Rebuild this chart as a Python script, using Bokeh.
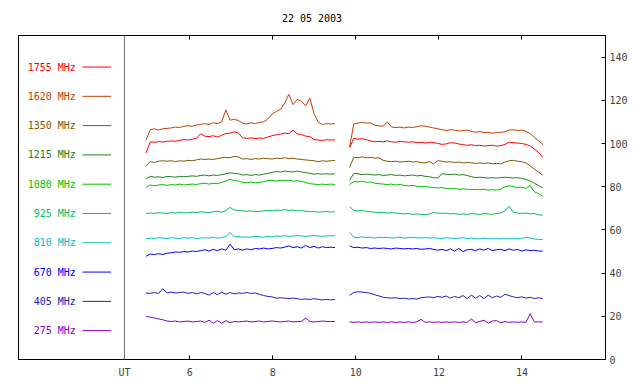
import numpy as np
from bokeh.plotting import figure
from bokeh.models import LinearAxis, Range1d, FixedTicker, Span, Label
from bokeh.embed import file_html
from bokeh.resources import INLINE

TITLE = "22 05 2003"
FREQS = ["1755 MHz", "1620 MHz", "1350 MHz", "1215 MHz", "1080 MHz",
         "925 MHz", "810 MHz", "670 MHz", "405 MHz", "275 MHz"]
COLORS = ["#FF0000", "#C04000", "#805800", "#208020", "#00C000",
          "#00C060", "#00C0C0", "#0000FF", "#2020C0", "#8000C0"]

# sample times (UT hours) of the two observing blocks
T_AM = np.linspace(4.95, 9.5, 46)
T_PM = np.linspace(9.85, 14.5, 47)

F1755_AM = [95.6, 100.8, 100.5, 100.9, 100.7, 101.0, 101.2, 101.0, 101.5, 101.8,
            101.6, 102.0, 102.4, 104.5, 103.4, 103.2, 103.6, 103.0, 103.8, 104.6,
            104.8, 105.4, 104.8, 102.6, 102.4, 102.6, 102.3, 102.5, 102.4, 103.0,
            103.6, 104.0, 104.4, 104.8, 104.6, 106.2, 104.4, 104.2, 103.4, 103.2,
            101.8, 101.6, 101.4, 101.8, 101.6, 101.7]
F1755_PM = [98.0, 102.4, 102.0, 102.2, 101.8, 101.2, 100.8, 101.0, 100.8, 101.2,
            100.8, 100.6, 101.0, 100.8, 100.6, 100.8, 100.4, 100.6, 100.2, 100.6,
            100.4, 100.0, 99.6, 99.8, 100.4, 100.2, 99.8, 99.4, 99.2, 99.4,
            99.0, 99.2, 98.8, 99.0, 99.2, 98.8, 99.0, 99.6, 100.6, 100.4,
            100.2, 100.0, 99.6, 98.8, 97.4, 95.8, 93.6]

F1620_AM = [101.6, 106.4, 106.8, 106.2, 106.8, 107.0, 107.2, 107.6, 107.4, 108.0,
            108.2, 108.0, 108.6, 108.8, 109.2, 108.8, 109.6, 109.2, 110.0, 115.6,
            110.8, 111.2, 110.6, 109.4, 109.0, 109.6, 109.2, 109.8, 110.0, 111.4,
            113.6, 114.8, 115.8, 118.6, 122.8, 118.0, 120.4, 119.6, 117.4, 121.0,
            113.8, 109.8, 108.8, 109.2, 109.0, 109.2]
F1620_PM = [98.5, 109.0, 109.4, 109.8, 109.4, 109.6, 108.4, 108.2, 108.0, 110.0,
            107.6, 107.4, 107.6, 107.2, 107.6, 107.4, 107.8, 108.2, 108.0, 107.6,
            107.2, 106.8, 106.4, 106.0, 106.4, 106.2, 105.8, 106.0, 106.2, 105.6,
            105.2, 105.6, 105.0, 105.2, 104.8, 105.0, 105.2, 105.4, 106.2, 106.4,
            106.0, 106.2, 105.6, 104.6, 102.8, 101.2, 99.6]

F1350_AM = [89.8, 91.6, 91.2, 91.8, 92.0, 91.8, 92.0, 91.6, 92.0, 91.8,
            92.2, 92.0, 92.4, 92.8, 92.6, 92.8, 92.6, 93.0, 93.4, 93.6,
            93.4, 94.0, 93.8, 92.8, 93.0, 92.6, 93.0, 92.8, 93.2, 93.0,
            92.8, 93.2, 93.0, 93.4, 93.0, 93.2, 92.8, 92.6, 92.4, 92.2,
            92.0, 91.6, 92.0, 91.8, 92.0, 92.2]
F1350_PM = [89.0, 93.6, 93.4, 93.8, 93.4, 93.6, 93.2, 93.4, 92.2, 91.8,
            91.6, 91.8, 91.4, 91.6, 91.8, 91.4, 91.6, 91.2, 91.0, 91.6,
            90.6, 92.0, 91.8, 91.4, 91.6, 91.2, 91.4, 91.0, 91.2, 91.0,
            90.8, 91.0, 90.8, 91.0, 90.6, 90.8, 90.6, 91.4, 92.0, 92.2,
            91.8, 91.6, 91.0, 89.6, 88.2, 86.8, 85.3]

F1215_AM = [83.6, 84.8, 84.4, 84.6, 84.2, 84.8, 84.6, 84.4, 84.8, 84.6,
            84.8, 85.0, 84.8, 85.2, 85.4, 85.0, 85.4, 85.2, 85.6, 86.0,
            86.4, 86.2, 86.0, 85.4, 85.6, 85.2, 85.6, 85.4, 85.8, 86.2,
            86.6, 87.0, 86.8, 87.2, 87.0, 86.8, 87.2, 86.8, 86.6, 86.2,
            85.8, 86.0, 85.8, 86.0, 85.8, 86.0]
F1215_PM = [83.0, 86.2, 86.0, 85.6, 85.8, 85.6, 85.4, 85.6, 85.2, 85.4,
            85.6, 85.2, 85.4, 85.0, 85.2, 85.4, 85.0, 85.2, 84.8, 84.6,
            84.2, 84.0, 86.0, 85.8, 85.6, 85.8, 85.4, 85.6, 85.2, 84.6,
            84.2, 84.4, 84.2, 84.0, 84.2, 84.0, 84.2, 84.4, 84.2, 84.0,
            84.2, 83.8, 83.4, 82.6, 81.6, 80.6, 79.4]

F1080_AM = [79.6, 80.8, 80.4, 80.8, 81.0, 80.6, 81.0, 80.8, 81.2, 80.8,
            81.0, 81.2, 81.0, 81.4, 81.6, 81.2, 81.6, 81.4, 82.0, 82.6,
            83.4, 82.8, 82.6, 82.0, 81.8, 82.2, 81.8, 82.0, 82.4, 82.8,
            83.0, 82.6, 83.0, 82.8, 83.0, 82.6, 82.8, 82.4, 82.0, 81.4,
            81.2, 81.0, 81.2, 81.0, 81.2, 81.0]
F1080_PM = [81.0, 82.4, 82.2, 82.6, 82.0, 82.2, 81.6, 81.4, 81.2, 81.0,
            81.2, 80.8, 81.0, 80.6, 80.4, 80.6, 80.2, 80.0, 80.2, 79.8,
            79.6, 79.4, 79.6, 79.2, 79.0, 79.2, 78.8, 79.0, 78.8, 78.6,
            78.8, 78.6, 78.8, 78.4, 78.6, 78.4, 78.8, 80.0, 80.4, 80.0,
            79.6, 79.8, 79.2, 80.6, 77.6, 76.8, 75.6]

F925_AM = [67.6, 67.8, 67.6, 68.0, 67.8, 67.6, 68.0, 67.8, 68.2, 67.8,
           68.0, 68.2, 68.0, 68.4, 68.2, 68.0, 68.4, 68.6, 68.2, 69.0,
           70.4, 69.2, 69.0, 68.8, 68.6, 68.8, 68.4, 68.6, 68.8, 69.0,
           68.8, 69.2, 69.0, 69.4, 69.0, 69.2, 68.8, 69.0, 68.6, 68.4,
           68.6, 68.2, 68.4, 68.6, 68.2, 68.4]
F925_PM = [70.8, 69.0, 68.8, 69.0, 68.6, 68.4, 68.2, 68.0, 68.2, 67.8,
           68.0, 67.8, 67.6, 67.4, 67.6, 67.2, 67.4, 67.2, 67.0, 67.4,
           68.0, 67.8, 67.6, 67.8, 67.4, 67.6, 67.2, 67.4, 67.2, 67.6,
           67.4, 67.2, 67.6, 67.4, 67.2, 67.6, 67.8, 68.8, 71.0, 68.2,
           67.8, 67.6, 67.8, 67.4, 67.6, 67.0, 66.8]

F810_AM = [56.0, 56.2, 56.0, 56.4, 56.2, 56.0, 56.4, 56.2, 56.0, 56.4,
           56.2, 56.4, 56.0, 56.2, 56.4, 56.2, 56.6, 56.2, 56.4, 57.0,
           58.8, 56.8, 57.0, 56.6, 56.8, 56.6, 57.0, 56.8, 56.6, 57.0,
           56.8, 57.2, 57.0, 57.4, 57.0, 57.2, 57.4, 57.2, 57.0, 57.2,
           57.4, 57.2, 57.0, 57.2, 57.4, 57.2]
F810_PM = [58.8, 56.6, 56.4, 56.8, 56.4, 56.6, 56.2, 56.6, 56.4, 56.6,
           56.2, 56.4, 56.6, 56.2, 56.4, 56.6, 56.4, 56.2, 56.4, 56.2,
           56.4, 56.2, 56.0, 56.4, 56.2, 56.0, 56.2, 56.4, 56.0, 56.2,
           56.0, 55.8, 56.2, 56.0, 55.8, 56.0, 55.8, 56.0, 55.8, 56.0,
           55.8, 56.0, 56.6, 56.2, 55.8, 55.6, 55.6]

F670_AM = [47.8, 48.8, 48.6, 49.0, 48.6, 49.2, 49.4, 49.8, 49.6, 50.0,
           49.8, 50.2, 50.0, 50.4, 50.8, 50.2, 51.0, 50.4, 51.2, 50.6,
           53.4, 50.8, 51.2, 50.6, 51.2, 50.8, 51.4, 51.2, 51.6, 51.2,
           51.4, 51.8, 51.6, 52.0, 52.6, 51.8, 52.2, 51.6, 52.8, 51.8,
           52.4, 51.6, 52.2, 51.8, 52.0, 51.8]
F670_PM = [52.6, 51.8, 52.0, 51.6, 51.8, 51.4, 51.6, 51.4, 51.6, 51.4,
           51.2, 51.6, 51.4, 51.2, 51.4, 51.2, 51.4, 51.0, 51.2, 51.4,
           51.0, 50.6, 51.0, 50.4, 51.2, 50.2, 51.4, 50.0, 50.8, 51.0,
           50.4, 51.2, 50.6, 51.4, 50.4, 50.8, 51.0, 50.4, 51.2, 50.6,
           51.0, 50.2, 50.8, 50.4, 50.6, 50.2, 50.2]

F405_AM = [30.8, 30.6, 31.0, 30.6, 32.8, 30.8, 31.2, 30.8, 31.0, 31.2,
           30.6, 31.0, 30.4, 31.0, 30.6, 29.8, 31.0, 30.0, 31.2, 30.2,
           31.0, 30.4, 30.8, 30.6, 31.0, 30.6, 30.8, 30.2, 29.6, 29.2,
           29.0, 28.4, 28.6, 28.4, 28.2, 28.4, 28.2, 27.8, 28.0, 27.8,
           28.2, 27.8, 27.6, 27.8, 27.6, 27.8]
F405_PM = [29.8, 31.0, 31.4, 31.2, 31.0, 30.6, 30.0, 29.4, 28.8, 28.6,
           28.4, 28.6, 28.2, 28.4, 28.0, 28.2, 28.0, 28.6, 28.8, 29.0,
           28.6, 29.2, 28.8, 29.4, 28.4, 29.2, 28.6, 29.6, 28.2, 29.8,
           28.4, 29.6, 28.2, 29.8, 28.6, 29.4, 28.8, 30.2, 29.6, 29.0,
           28.6, 29.0, 28.4, 28.8, 28.2, 28.6, 28.2]

F275_AM = [20.0, 19.6, 19.2, 18.8, 18.4, 17.8, 17.6, 17.8, 17.4, 17.6,
           17.8, 17.4, 17.6, 17.8, 17.2, 18.2, 16.8, 18.0, 16.8, 18.0,
           17.0, 17.6, 17.4, 17.6, 17.8, 17.4, 17.6, 17.8, 17.4, 17.6,
           17.8, 17.6, 17.4, 17.6, 17.8, 17.4, 17.6, 17.6, 19.2, 17.6,
           17.4, 17.6, 17.8, 17.6, 17.6, 17.6]
F275_PM = [17.4, 17.2, 17.4, 17.2, 17.4, 17.2, 17.4, 17.2, 17.4, 17.2,
           17.4, 17.2, 17.4, 17.2, 17.4, 17.2, 17.4, 18.6, 17.2, 17.4,
           17.2, 17.4, 17.2, 17.4, 17.2, 17.4, 17.2, 17.4, 17.2, 18.8,
           17.0, 17.6, 18.2, 16.8, 17.8, 18.0, 17.0, 17.6, 17.2, 17.4,
           17.2, 17.4, 17.2, 21.2, 17.4, 17.4, 17.4]

SERIES = [(F1755_AM, F1755_PM), (F1620_AM, F1620_PM), (F1350_AM, F1350_PM),
          (F1215_AM, F1215_PM), (F1080_AM, F1080_PM), (F925_AM, F925_PM),
          (F810_AM, F810_PM), (F670_AM, F670_PM), (F405_AM, F405_PM),
          (F275_AM, F275_PM)]

X_TICKS = [6, 8, 10, 12, 14]
Y_TICKS = [0, 20, 40, 60, 80, 100, 120, 140]
UT_POS = 4.43

FONT = "DejaVu Sans Mono"

p = figure(frame_width=587, frame_height=324,
           x_range=Range1d(1.88, 16.01), y_range=Range1d(0, 150),
           y_axis_location="right",
           output_backend="svg", toolbar_location=None,
           min_border_left=18, min_border_top=35, min_border_right=10,
           min_border_bottom=5)
p.xgrid.visible = False
p.ygrid.visible = False
p.outline_line_color = "black"
p.outline_line_alpha = 1.0
p.background_fill_color = "white"
p.border_fill_color = "white"

# bottom axis
xa = p.xaxis[0]
xa.ticker = FixedTicker(ticks=[UT_POS] + X_TICKS)
xa.major_label_overrides = {UT_POS: "UT"}
xa.major_tick_in = 4
xa.major_tick_out = 0
xa.minor_tick_in = 0
xa.minor_tick_out = 0
xa.major_label_standoff = 7
xa.major_label_text_font = FONT
xa.major_label_text_font_size = "10px"
xa.axis_line_color = "black"
xa.major_tick_line_color = "black"

# right axis
ya = p.yaxis[0]
ya.ticker = FixedTicker(ticks=Y_TICKS)
ya.major_tick_in = 4
ya.major_tick_out = 0
ya.minor_tick_in = 0
ya.minor_tick_out = 0
ya.major_label_standoff = 4
ya.major_label_text_font = FONT
ya.major_label_text_font_size = "10px"
ya.axis_line_color = "black"
ya.major_tick_line_color = "black"

# top axis: tick marks only, its axis label carries the date title
top = LinearAxis(ticker=FixedTicker(ticks=X_TICKS))
top.major_tick_in = 4
top.major_tick_out = 0
top.minor_tick_in = 0
top.minor_tick_out = 0
top.major_label_standoff = 0
top.major_label_overrides = {t: "" for t in X_TICKS}
top.major_label_text_font_size = "10px"
top.axis_line_color = "black"
top.axis_label = TITLE
top.axis_label_text_font = FONT
top.axis_label_text_font_size = "10px"
top.axis_label_text_font_style = "normal"
top.axis_label_text_color = "black"
top.axis_label_standoff = 12
p.add_layout(top, "above")

p.add_layout(Span(location=UT_POS, dimension="height",
                  line_color="#707070", line_width=1))

# legend column on the left
leg_y = [135.4 - 13.56 * i for i in range(len(FREQS))]
for name, col, yy in zip(FREQS, COLORS, leg_y):
    p.add_layout(Label(x=3.26, y=yy, text=name, text_color=col,
                       text_align="right", text_baseline="middle",
                       text_font=FONT, text_font_size="10px"))
p.segment(x0=[3.42] * len(FREQS), x1=[4.11] * len(FREQS), y0=leg_y, y1=leg_y,
          line_color=COLORS, line_width=1)

for (am, pm), col in zip(SERIES, COLORS):
    xs = np.concatenate([T_AM, [np.nan], T_PM])
    ys = np.concatenate([np.array(am, float), [np.nan], np.array(pm, float)])
    p.line(xs, ys, line_color=col, line_width=1)

open("out.html", "w").write(file_html(p, INLINE))
